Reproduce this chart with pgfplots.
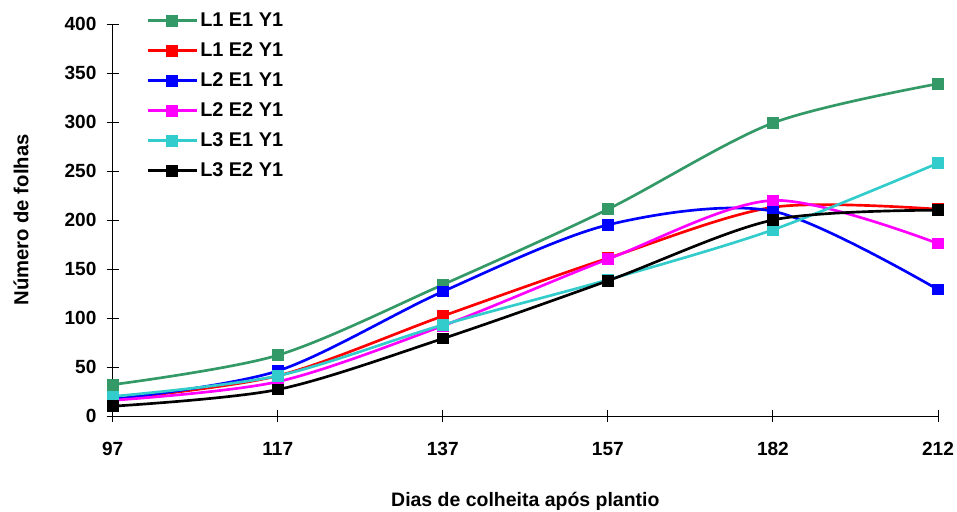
\documentclass[border=0pt]{standalone}
\usepackage{fontspec}
\setmainfont{Liberation Sans}
\usepackage{pgfplots}
\pgfplotsset{compat=1.18}

\definecolor{serGreen}{HTML}{339966}
\definecolor{serRed}{HTML}{FF0000}
\definecolor{serBlue}{HTML}{0000FF}
\definecolor{serMagenta}{HTML}{FF00FF}
\definecolor{serCyan}{HTML}{33CCCC}
\definecolor{serBlack}{HTML}{000000}

\begin{document}
\begin{tikzpicture}
\useasboundingbox (-84.5pt,-71.25pt) rectangle (633.25pt,312pt);
\begin{axis}[
  scale only axis,
  width=619pt, height=294pt,
  xmin=0, xmax=5, ymin=0, ymax=400,
  xtick={0,1,2,3,4,5},
  xticklabels={97,117,137,157,182,212},
  ytick={0,50,...,400},
  axis lines*=left,
  axis line style={black, line width=0.7pt},
  tick align=center,
  major tick length=9pt,
  tick style={black, line width=0.7pt},
  font=\fontsize{14.3}{17}\selectfont\bfseries,
  /pgf/number format/assume math mode=true,
  yticklabel style={anchor=east, inner sep=0pt, xshift=-7.5pt},
  xticklabel style={anchor=center, inner sep=0pt, yshift=-20pt},
  xlabel={Dias de colheita após plantio},
  ylabel={Número de folhas},
  every axis x label/.style={at={(axis description cs:0.5,-0.2168)}, anchor=center,
    font=\fontsize{14.6}{17}\selectfont\bfseries},
  every axis y label/.style={at={(axis description cs:-0.111,0.5)}, rotate=90, anchor=center,
    font=\fontsize{15.2}{18}\selectfont\bfseries},
  clip=false,
  every axis plot/.append style={line width=2pt, smooth, tension=0.5, mark=square*, mark size=3.4pt, mark options={solid, line width=0.5pt}},
  legend style={at={(axis description cs:0,1)}, anchor=north west, xshift=25pt, yshift=10pt,
    draw=none, fill=none, row sep=7.6pt, inner sep=0pt,
    font=\fontsize{14.9}{17}\selectfont\bfseries,
    nodes={inner sep=1.5pt}},
  legend cell align=left,
  legend image code/.code={%
    \draw[mark repeat=2, mark phase=2] plot coordinates {(0pt,0pt) (18.5pt,0pt) (37pt,0pt)};},
]
\addplot[color=serGreen, mark options={fill=serGreen}] coordinates {(0,32) (1,62) (2,134) (3,211) (4,299) (5,339)};
\addlegendentry{L1 E1 Y1}
\addplot[color=serRed, mark options={fill=serRed}] coordinates {(0,17) (1,41) (2,102) (3,161) (4,213) (5,211)};
\addlegendentry{L1 E2 Y1}
\addplot[color=serBlue, mark options={fill=serBlue}] coordinates {(0,17) (1,46) (2,127) (3,195) (4,209) (5,129)};
\addlegendentry{L2 E1 Y1}
\addplot[color=serMagenta, mark options={fill=serMagenta}] coordinates {(0,16) (1,35) (2,92) (3,160) (4,220) (5,176)};
\addlegendentry{L2 E2 Y1}
\addplot[color=serCyan, mark options={fill=serCyan}] coordinates {(0,20) (1,41) (2,93) (3,139) (4,190) (5,258)};
\addlegendentry{L3 E1 Y1}
\addplot[color=serBlack, mark options={fill=serBlack}] coordinates {(0,10) (1,27) (2,79) (3,138) (4,200) (5,210)};
\addlegendentry{L3 E2 Y1}
\end{axis}
\end{tikzpicture}
\end{document}
